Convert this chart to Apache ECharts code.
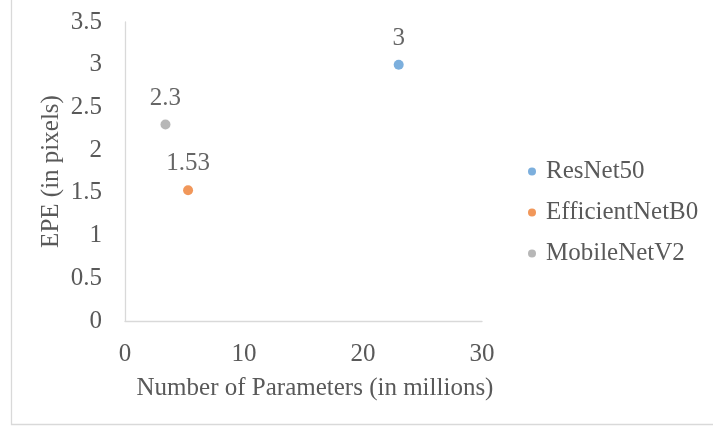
<!DOCTYPE html>
<html>
<head>
<meta charset="utf-8">
<script src="https://cdn.jsdelivr.net/npm/echarts@6/dist/echarts.min.js"></script>
<style>
  html, body { margin: 0; padding: 0; background: #fff; }
  #chart { width: 713px; height: 427px; }
</style>
</head>
<body>
<div id="chart"></div>
<script>
// Model comparison: parameter count vs. end-point error
const models = ['ResNet50', 'EfficientNetB0', 'MobileNetV2'];
const paramsMillions = [23, 5.3, 3.4];
const epePixels = [3, 1.53, 2.3];
const colors = ['#5B9BD5', '#ED7D31', '#A5A5A5'];

const FONT = '"Liberation Serif", "Times New Roman", serif';
const SIZE = 25;
const TEXT = '#595959';
const LINE = '#D9D9D9';

const chart = echarts.init(document.getElementById('chart'));

chart.setOption({
  animation: false,
  textStyle: { fontFamily: FONT },
  grid: { left: 125, right: 231, top: 22, bottom: 106 },
  xAxis: {
    type: 'value',
    min: 0, max: 30, interval: 10,
    name: 'Number of Parameters (in millions)',
    nameLocation: 'middle',
    nameGap: 55,
    nameMoveOverlap: false,
    nameTextStyle: { fontFamily: FONT, fontSize: SIZE, color: TEXT, padding: [0, 0, 0, 23] },
    axisLine: { lineStyle: { color: LINE, width: 1.3 } },
    axisTick: { show: false },
    splitLine: { show: false },
    axisLabel: { fontFamily: FONT, fontSize: SIZE, color: TEXT, margin: 21 }
  },
  yAxis: {
    type: 'value',
    min: 0, max: 3.5, interval: 0.5,
    name: 'EPE (in pixels)',
    nameLocation: 'middle',
    nameRotate: 90,
    nameGap: 61,
    nameMoveOverlap: false,
    nameTextStyle: { fontFamily: FONT, fontSize: SIZE, color: TEXT },
    axisLine: { show: true, lineStyle: { color: LINE, width: 1.3 } },
    axisTick: { show: false },
    splitLine: { show: false },
    axisLabel: { fontFamily: FONT, fontSize: SIZE, color: TEXT, margin: 23 }
  },
  legend: {
    orient: 'vertical',
    left: 523,
    top: 154,
    itemWidth: 8,
    itemHeight: 8,
    itemGap: 16,
    icon: 'circle',
    textStyle: { fontFamily: FONT, fontSize: SIZE, color: TEXT, padding: [0, 0, 0, 5] },
    data: models
  },
  series: models.map((name, i) => ({
    name: name,
    type: 'scatter',
    symbol: 'circle',
    symbolSize: 10,
    itemStyle: { color: colors[i] },
    data: [[paramsMillions[i], epePixels[i]]],
    label: {
      show: true,
      position: 'top',
      distance: 9,
      fontFamily: FONT,
      fontSize: SIZE,
      color: '#404040',
      formatter: p => String(p.value[1])
    }
  })),
  graphic: [
    {
      type: 'polyline',
      shape: { points: [[11.5, 0], [11.5, 424.5], [713, 424.5]] },
      style: { stroke: LINE, fill: null, lineWidth: 1.3 }
    }
  ]
});
</script>
</body>
</html>
